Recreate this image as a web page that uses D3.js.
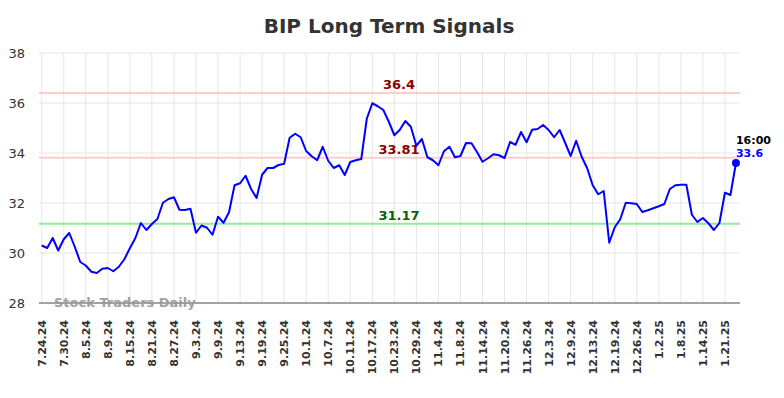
<!DOCTYPE html>
<html><head><meta charset="utf-8">
<script src="https://cdn.jsdelivr.net/npm/d3@7"></script>
<style>
body{margin:0;background:#fff;}
svg{display:block;font-family:"DejaVu Sans",sans-serif;}
</style></head>
<body><svg id="chart" width="784" height="398"></svg>
<script>
const title = "BIP Long Term Signals";
const tickLabels = ["7.24.24","7.30.24","8.5.24","8.9.24","8.15.24","8.21.24","8.27.24","9.3.24","9.9.24","9.13.24","9.19.24","9.25.24","10.1.24","10.7.24","10.11.24","10.17.24","10.23.24","10.29.24","11.4.24","11.8.24","11.14.24","11.20.24","11.26.24","12.3.24","12.9.24","12.13.24","12.19.24","12.26.24","1.2.25","1.8.25","1.14.25","1.21.25"];
const prices = [30.3,30.2,30.6,30.1,30.55,30.8,30.25,29.64,29.5,29.25,29.2,29.37,29.4,29.27,29.45,29.75,30.19,30.6,31.2,30.92,31.16,31.36,32.01,32.16,32.23,31.73,31.72,31.77,30.81,31.1,31.01,30.73,31.45,31.21,31.63,32.71,32.79,33.09,32.56,32.2,33.13,33.4,33.4,33.52,33.57,34.61,34.77,34.63,34.08,33.87,33.71,34.25,33.69,33.4,33.51,33.12,33.64,33.71,33.76,35.37,35.99,35.87,35.72,35.25,34.71,34.93,35.28,35.05,34.29,34.56,33.83,33.71,33.51,34.07,34.25,33.83,33.88,34.4,34.39,34.04,33.65,33.79,33.95,33.91,33.8,34.44,34.33,34.84,34.43,34.93,34.96,35.12,34.92,34.63,34.92,34.41,33.88,34.49,33.85,33.39,32.71,32.35,32.48,30.41,31.03,31.35,32.01,31.99,31.96,31.64,31.71,31.79,31.87,31.96,32.56,32.71,32.73,32.73,31.53,31.24,31.4,31.19,30.92,31.2,32.41,32.32,33.6];
const yTicks = [28,30,32,34,36,38];
const resistance = [36.4, 33.81];
const support = [31.17];
const lastTime = "16:00";
const lastLabel = "33.6";
const watermark = "Stock Traders Daily";

const svg = d3.select("#chart");
const L = 41.7, R = 740, T = 53, B = 303;
const step = 5.51;
const x = d3.scaleLinear().domain([0, prices.length - 1]).range([L, L + step * (prices.length - 1)]);
const y = d3.scaleLinear().domain([28, 38]).range([B, T]);

// horizontal grid
svg.append("g").selectAll("line").data(yTicks).join("line")
  .attr("x1", 39).attr("x2", R).attr("y1", d => y(d)).attr("y2", d => y(d))
  .attr("stroke", "#e6e6e6").attr("stroke-width", 1);
// vertical grid
const tickIdx = tickLabels.map((t, i) => i * 4);
svg.append("g").selectAll("line").data(tickIdx).join("line")
  .attr("x1", d => x(d)).attr("x2", d => x(d)).attr("y1", T).attr("y2", B)
  .attr("stroke", "#e6e6e6").attr("stroke-width", 1);

// y tick labels
svg.append("g").selectAll("text").data(yTicks).join("text")
  .attr("x", 25).attr("y", d => y(d)).attr("dy", "0.35em")
  .attr("text-anchor", "end").attr("font-size", 13).attr("fill", "#333")
  .text(d => d);

// x tick labels
svg.append("g").selectAll("text").data(tickLabels).join("text")
  .attr("transform", (d, i) => `translate(${x(i * 4) + 4},${320}) rotate(-90)`)
  .attr("text-anchor", "end").attr("font-size", 11).attr("fill", "#333")
  .attr("font-weight", "bold")
  .text(d => d);

// reference lines
svg.append("g").selectAll("line").data(resistance).join("line")
  .attr("x1", 39).attr("x2", R).attr("y1", d => y(d)).attr("y2", d => y(d))
  .attr("stroke", "#ffcccc").attr("stroke-width", 2);
svg.append("g").selectAll("line").data(support).join("line")
  .attr("x1", 39).attr("x2", R).attr("y1", d => y(d)).attr("y2", d => y(d))
  .attr("stroke", "#90ee90").attr("stroke-width", 2);

// axis line
svg.append("line").attr("x1", 39).attr("x2", R).attr("y1", B).attr("y2", B)
  .attr("stroke", "#555").attr("stroke-width", 1.2);

// watermark
svg.append("text").attr("x", 54).attr("y", 307).attr("font-size", 13)
  .attr("font-weight", "bold").attr("fill", "#999").attr("opacity", 0.9).text(watermark);

// reference labels
svg.append("g").selectAll("text").data(resistance).join("text")
  .attr("x", 399).attr("y", d => y(d) - 4).attr("text-anchor", "middle")
  .attr("font-size", 13).attr("font-weight", "bold").attr("fill", "#8b0000")
  .text(d => d);
svg.append("g").selectAll("text").data(support).join("text")
  .attr("x", 399).attr("y", d => y(d) - 4).attr("text-anchor", "middle")
  .attr("font-size", 13).attr("font-weight", "bold").attr("fill", "#006400")
  .text(d => d);

// price line
svg.append("path").datum(prices)
  .attr("fill", "none").attr("stroke", "#0000ff").attr("stroke-width", 2)
  .attr("stroke-linejoin", "round")
  .attr("d", d3.line().x((d, i) => x(i)).y(d => y(d)));

// last point
const li = prices.length - 1;
svg.append("circle").attr("cx", x(li)).attr("cy", y(prices[li])).attr("r", 4).attr("fill", "#0000ff");
svg.append("text").attr("x", x(li)).attr("y", y(prices[li]) - 19).attr("font-size", 11)
  .attr("font-weight", "bold").attr("fill", "#000").text(lastTime);
svg.append("text").attr("x", x(li)).attr("y", y(prices[li]) - 6).attr("font-size", 11)
  .attr("font-weight", "bold").attr("fill", "#0000ff").text(lastLabel);

// title
svg.append("text").attr("x", 389).attr("y", 33).attr("text-anchor", "middle")
  .attr("font-size", 20).attr("font-weight", "bold").attr("fill", "#333").text(title);
</script></body></html>
